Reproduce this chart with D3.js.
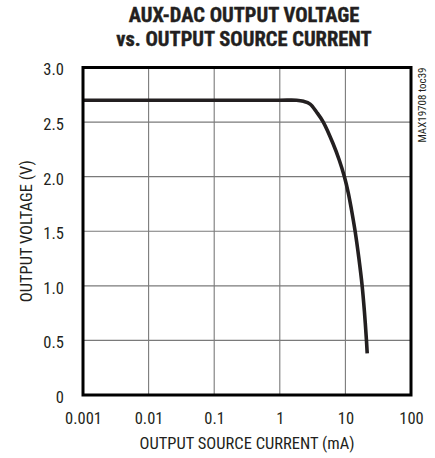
<!DOCTYPE html>
<html>
<head>
<meta charset="utf-8">
<script src="https://cdn.jsdelivr.net/npm/d3@7"></script>
<style>
  html, body { margin: 0; padding: 0; background: #fff; }
  svg { display: block; }
  text { font-family: "Liberation Sans Narrow", "Arial Narrow", "Roboto Condensed", "Liberation Sans", sans-serif; fill: #231f20; }
</style>
</head>
<body>
<svg id="chart" width="435" height="458"></svg>
<script>
// Output source current (mA) and the measured AUX-DAC output voltage (V)
const currentMA = [0.001, 0.1, 1, 1.8, 2.3, 2.9, 3.65, 4.6, 6.45, 8.05, 9.66, 11.1, 12.4, 14.05, 16.05, 18.0, 19.5, 20.95, 21.5];
const voltageV  = [2.7, 2.7, 2.7, 2.7, 2.69, 2.665, 2.59, 2.5, 2.306, 2.153, 2.0, 1.848, 1.695, 1.502, 1.252, 1.0, 0.763, 0.497, 0.382];

const xTickValues = [0.001, 0.01, 0.1, 1, 10, 100];
const xTickLabels = ["0.001", "0.01", "0.1", "1", "10", "100"];
const yTickValues = [0, 0.5, 1.0, 1.5, 2.0, 2.5, 3.0];
const yTickLabels = ["0", "0.5", "1.0", "1.5", "2.0", "2.5", "3.0"];

const titleLines = ["AUX-DAC OUTPUT VOLTAGE", "vs. OUTPUT SOURCE CURRENT"];
const xTitle = "OUTPUT SOURCE CURRENT (mA)";
const yTitle = "OUTPUT VOLTAGE (V)";
const partTag = "MAX19708 toc39";

const svg = d3.select("#chart");
const plot = { left: 83, right: 411, top: 67.5, bottom: 395 };

const x = d3.scaleLog().domain([0.001, 100]).range([plot.left, plot.right]);
const y = d3.scaleLinear().domain([0, 3]).range([plot.bottom, plot.top]);

// Title
svg.append("g").selectAll("text").data(titleLines).join("text")
  .attr("x", 244)
  .attr("y", (d, i) => 22 + i * 24)
  .attr("text-anchor", "middle")
  .style("font-size", "20.5px")
  .style("font-weight", "bold")
  .style("stroke", "#231f20")
  .style("stroke-width", 0.4)
  .text(d => d);

// Grid lines
const grid = svg.append("g").attr("stroke", "#7a7a7a").attr("stroke-width", 1.1);
grid.selectAll("line.v").data(xTickValues.slice(1, -1)).join("line")
  .attr("class", "v")
  .attr("x1", d => x(d)).attr("x2", d => x(d))
  .attr("y1", plot.top).attr("y2", plot.bottom);
grid.selectAll("line.h").data(yTickValues.slice(1, -1)).join("line")
  .attr("class", "h")
  .attr("x1", plot.left).attr("x2", plot.right)
  .attr("y1", d => y(d)).attr("y2", d => y(d));

// Axes (labels only; the frame is drawn separately)
const xAxis = d3.axisBottom(x).tickValues(xTickValues)
  .tickFormat((d, i) => xTickLabels[i]).tickSize(0).tickPadding(0);
const gx = svg.append("g").attr("transform", `translate(0,${plot.bottom})`).call(xAxis);
gx.select(".domain").remove();
gx.selectAll("text").attr("y", 29).attr("dy", 0)
  .style("font-size", "16.5px").style("font-family", null).attr("fill", "#231f20");

const yAxis = d3.axisLeft(y).tickValues(yTickValues)
  .tickFormat((d, i) => yTickLabels[i]).tickSize(0).tickPadding(0);
const gy = svg.append("g").attr("transform", `translate(${plot.left},0)`).call(yAxis);
gy.select(".domain").remove();
gy.selectAll("text").attr("x", -19).attr("dy", "0.45em")
  .style("font-size", "16.5px").style("font-family", null).attr("fill", "#231f20");

// Curve
const pts = currentMA.map((c, i) => [c, voltageV[i]]);
const line = d3.line().x(d => x(d[0])).y(d => y(d[1])).curve(d3.curveCatmullRom.alpha(0.5));
svg.append("path").datum(pts)
  .attr("d", line)
  .attr("fill", "none")
  .attr("stroke", "#231f20")
  .attr("stroke-width", 3.6)
  .attr("stroke-linejoin", "round");

// Frame
svg.append("rect")
  .attr("x", plot.left).attr("y", plot.top)
  .attr("width", plot.right - plot.left).attr("height", plot.bottom - plot.top)
  .attr("fill", "none").attr("stroke", "#000").attr("stroke-width", 3);

// Axis titles
svg.append("text")
  .attr("x", 247).attr("y", 449)
  .attr("text-anchor", "middle")
  .style("font-size", "16.5px")
  .text(xTitle);

svg.append("text")
  .attr("transform", `translate(32,${(plot.top + plot.bottom) / 2}) rotate(-90)`)
  .attr("text-anchor", "middle")
  .style("font-size", "16.5px")
  .text(yTitle);

svg.append("text")
  .attr("transform", `translate(425.5,${plot.top}) rotate(-90)`)
  .attr("text-anchor", "end")
  .style("font-size", "11px")
  .text(partTag);
</script>
</body>
</html>
